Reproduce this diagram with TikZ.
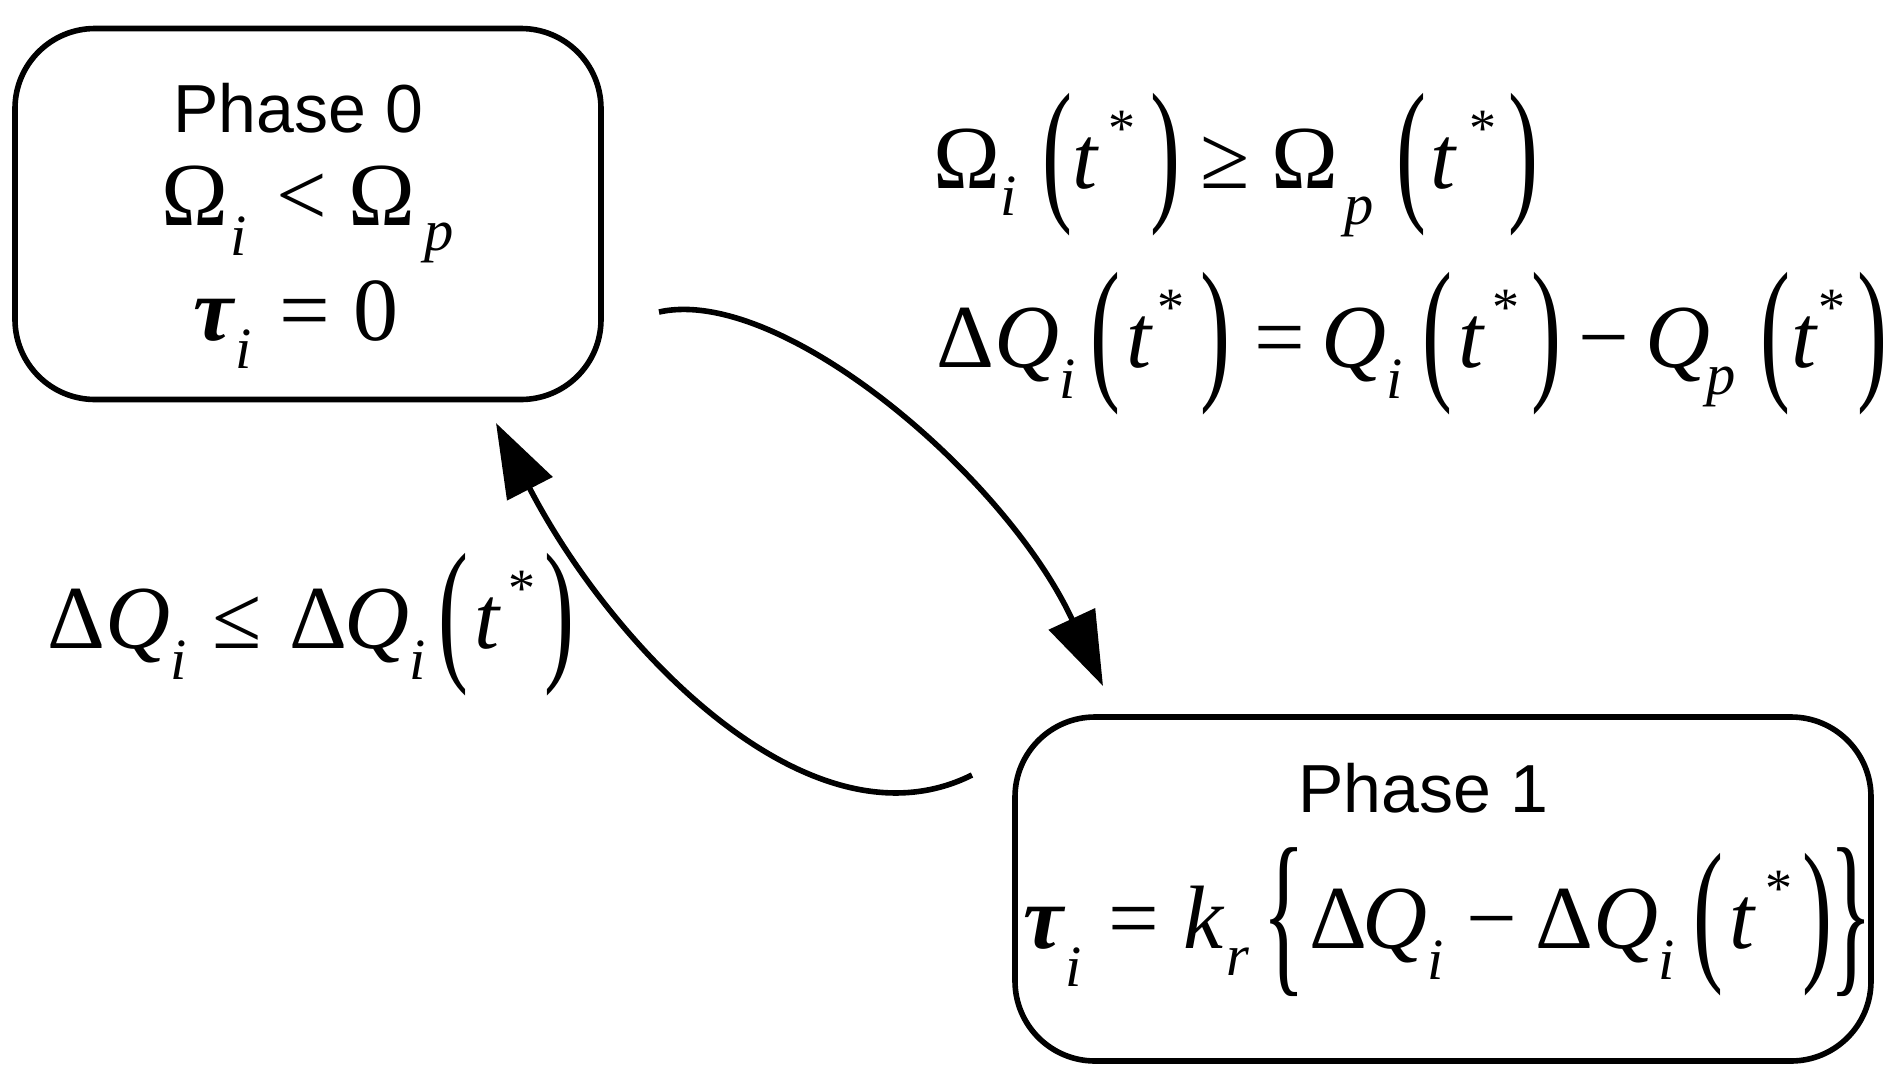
\documentclass[tikz,border=0pt]{standalone}
\usepackage{fontspec}
\setmainfont{Liberation Serif}
\setsansfont{Liberation Sans}
\usepackage{graphicx}
\usetikzlibrary{arrows.meta}

\newcommand\xsb[2][-0.3em]{\raisebox{#1}{\scalebox{0.65}{\itshape #2}}}
\newcommand\xlp{\raisebox{-0.16em}{\scalebox{1}[1.75]{(}}}
\newcommand\xrp{\raisebox{-0.16em}{\scalebox{1}[1.75]{)}}}
\newcommand\xlb{\raisebox{-0.27em}{\scalebox{1}[2]{\{}}}
\newcommand\xrb{\raisebox{-0.27em}{\scalebox{1}[2]{\}}}}
\newcommand\xst{\raisebox{0.46em}{\scalebox{0.6}{*}}}
\newcommand\xt{\textit{t}}
\newcommand\xtau{\textbf{\textit{τ}}}

\tikzset{
  phasebox/.style={draw, line width=2.8pt, rounded corners=40pt, inner sep=0pt},
  lbl/.style={anchor=base west, inner sep=0pt, font=\fontsize{45}{54}\selectfont},
  ttl/.style={anchor=base west, inner sep=0pt, font=\sffamily\fontsize{34}{40}\selectfont},
  arr/.style={line width=2.8pt, -{Triangle[length=37pt,width=25pt]}}
}

\begin{document}
\begin{tikzpicture}[x=0.5pt,y=-0.5pt]
\useasboundingbox (0,0) rectangle (1897,1088);

% boxes
\node[phasebox, minimum width=293pt, minimum height=185.5pt] (p0) at (308,214) {};
\node[phasebox, minimum width=428pt, minimum height=172pt] (p1) at (1443,889) {};

% box 0 texts
\node[ttl] (t0) at (173,132) {Phase 0};
\node[lbl] (c0) at (161,225) {Ω\kern0.03em\xsb[-0.34em]{i}\kern0.33em<\kern0.23emΩ\kern0.1em\xsb[-0.28em]{p}};
\node[lbl] (c1) at (193,340) {\xtau\xsb[-0.32em]{i}\kern0.31em=\kern0.26em0};

% box 1 texts
\node[ttl] (t1) at (1298,812) {Phase 1};
\node[lbl] (c2) at (1023,948) {\xtau\xsb[-0.43em]{i}\kern0.3em=\kern0.26em\textit{k}\kern0.02em\xsb[-0.3em]{r}\kern0.15em\xlb\kern0.04emΔ\kern-0.05em\textit{Q}\xsb[-0.35em]{i}\kern0.25em−\kern0.21emΔ\textit{Q}\xsb[-0.35em]{i}\kern0.21em\xlp\kern0.06em\xt\kern0.1em\xst\kern0.12em\xrp\kern-0.04em\xrb};

% edge labels
\node[lbl] (l1) at (933,188) {Ω\xsb[-0.31em]{i}\kern0.29em\xlp\xt\kern0.1em\xst\kern0.17em\xrp\kern0.22em≥\kern0.24emΩ\kern0.07em\xsb[-0.4em]{p}\kern0.25em\xlp\kern0.05em\xt\kern0.13em\xst\kern0.13em\xrp};
\node[lbl] (l2) at (936,367) {Δ\textit{Q}\xsb[-0.35em]{i}\kern0.17em\xlp\kern0.06em\xt\kern0.05em\xst\kern0.18em\xrp\kern0.26em=\kern0.19em\textit{Q}\xsb[-0.35em]{i}\kern0.22em\xlp\kern0.06em\xt\kern0.08em\xst\kern0.13em\xrp\kern0.19em−\kern0.19em\textit{Q}\kern-0.05em\xsb[-0.3em]{p}\kern0.27em\xlp\kern0.02em\xt\xst\kern0.13em\xrp};
\node[lbl] (l3) at (47,648) {Δ\textit{Q}\xsb[-0.35em]{i}\kern0.29em≤\kern0.3emΔ\kern-0.03em\textit{Q}\xsb[-0.35em]{i}\kern0.15em\xlp\kern0.06em\xt\kern0.08em\xst\kern0.1em\xrp};

% connectors
\coordinate (s1) at (659,312);
\coordinate (e1) at (1103,686);
\draw[arr] (s1) .. controls (780,285) and (1005,475) .. (e1);
\coordinate (s2) at (972,775);
\coordinate (e2) at (496,423);
\draw[arr] (s2) .. controls (810,856) and (611,646) .. (e2);
\end{tikzpicture}
\end{document}
